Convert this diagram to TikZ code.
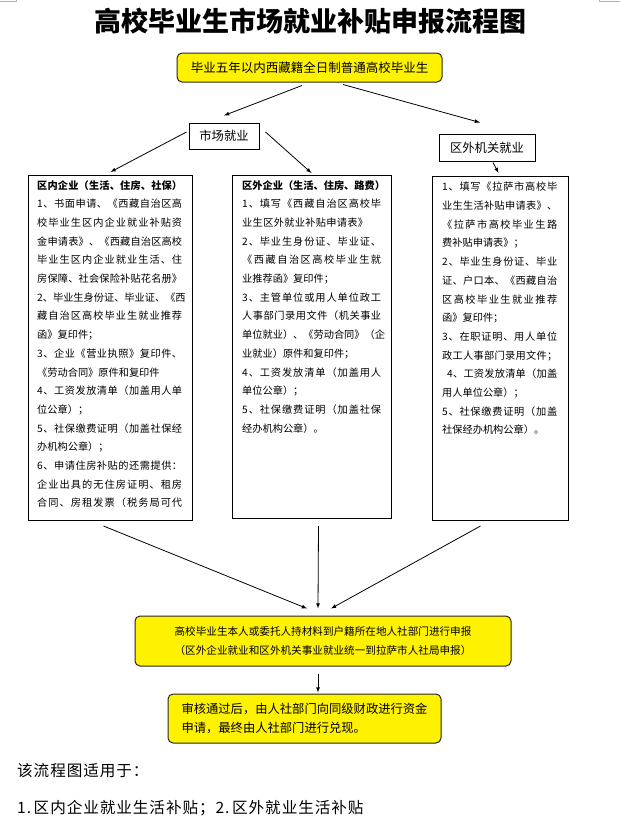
\documentclass[tikz,border=0pt]{standalone}
\usepackage{fontspec}
\setmainfont{Noto Sans CJK SC}[Kerning=Off]
\newfontfamily\notefont{Noto Sans CJK SC}[Kerning=Off,LetterSpace=6]
\def\flfirst#1{#1\flrest}
\def\flrest#1{\ifx#1\relax\else\hfil#1\expandafter\flrest\fi}
\newcommand\fl[2][\linewidth]{\makebox[#1][s]{\flfirst#2\relax}}
\newcommand\flb[1]{{\bfseries\fl{#1}}}
\usetikzlibrary{positioning}

\begin{document}
\begin{tikzpicture}[x=1pt,y=-1pt,
  flow/.style={draw=black!85,line width=1pt,fill=yellow,rounded corners=5pt,inner sep=0pt},
  tag/.style={draw=black,line width=1pt,inner sep=0pt,font=\fontsize{12.3}{14}\selectfont},
  panel/.style={draw=black,line width=1pt,inner sep=0pt,anchor=north west},
  ptext/.style={anchor=north west,inner sep=0pt,align=left,font=\fontsize{10.2}{18.7}\selectfont},
  link/.style={-latex,line width=0.8pt,black}]
\useasboundingbox (0,0) rectangle (620,819);
\draw[gray!60,line width=0.8pt] (0,1.5) -- (16,1.5) -- (16,0);
\draw[gray!60,line width=0.8pt] (620,1.5) -- (599,1.5) -- (599,0);

\node[font=\fontsize{27}{30}\selectfont\bfseries] (title) at (310,21) {高校毕业生市场就业补贴申报流程图};
\node[flow,minimum width=265pt,minimum height=29pt,font=\fontsize{12.5}{14}\selectfont] (grad) at (309.5,67.5) {毕业五年以内西藏籍全日制普通高校毕业生};
\node[tag,minimum width=70pt,minimum height=26pt] (mkt) at (224,136) {市场就业};
\node[tag,minimum width=96pt,minimum height=27pt] (gov) at (487,147.5) {区外机关就业};

\node[panel,minimum width=164pt,minimum height=345pt] (inner) at (28,175) {};
\node[panel,minimum width=159pt,minimum height=343pt] (outer) at (232,175) {};
\node[panel,minimum width=136pt,minimum height=344pt] (lhasa) at (432,176) {};

\node[ptext,text width=145pt] (innertxt) at ([xshift=9pt,yshift=-5pt]inner.north west) {\flb{区内企业（生活、住房、社保）}\\
\fl{1、书面申请、《西藏自治区高}\\
\fl{校毕业生区内企业就业补贴资}\\
\fl{金申请表》、《西藏自治区高校}\\
\fl{毕业生区内企业就业生活、住}\\
\fl{房保障、社会保险补贴花名册》}\\
\fl{2、毕业生身份证、毕业证、《西}\\
\fl{藏自治区高校毕业生就业推荐}\\
函》复印件；\\
\fl{3、企业《营业执照》复印件、}\\
《劳动合同》原件和复印件\\
\fl{4、工资发放清单（加盖用人单}\\
位公章）；\\
\fl{5、社保缴费证明（加盖社保经}\\
办机构公章）；\\
\fl{6、申请住房补贴的还需提供：}\\
\fl{企业出具的无住房证明、租房}\\
\fl{合同、房租发票（税务局可代}};
\node[ptext,text width=139pt] (outertxt) at ([xshift=10pt,yshift=-5pt]outer.north west) {\flb{区外企业（生活、住房、路费）}\\
\fl{1、填写《西藏自治区高校毕}\\
\fl[126pt]{业生区外就业补贴申请表》}\\
\fl{2、毕业生身份证、毕业证、}\\
\fl{《西藏自治区高校毕业生就}\\
业推荐函》复印件；\\
\fl{3、主管单位或用人单位政工}\\
\fl{人事部门录用文件（机关事业}\\
\fl{单位就业）、《劳动合同》（企}\\
业就业）原件和复印件；\\
\fl{4、工资发放清单（加盖用人}\\
单位公章）；\\
\fl{5、社保缴费证明（加盖社保}\\
经办机构公章）。};
\node[ptext,text width=115pt] (lhasatxt) at ([xshift=10pt,yshift=-6pt]lhasa.north west) {\fl{1、填写《拉萨市高校毕}\\
\fl{业生生活补贴申请表》、}\\
\fl{《拉萨市高校毕业生路}\\
费补贴申请表》；\\
\fl{2、毕业生身份证、毕业}\\
\fl{证、户口本、《西藏自治}\\
\fl{区高校毕业生就业推荐}\\
函》复印件；\\
\fl{3、在职证明、用人单位}\\
\fl{政工人事部门录用文件；}\\
\hspace*{5pt}\fl[110pt]{4、工资发放清单（加盖}\\
用人单位公章）；\\
\fl{5、社保缴费证明（加盖}\\
社保经办机构公章）。};

\node[flow,minimum width=376pt,minimum height=50pt,align=center,font=\fontsize{10.6}{19}\selectfont] (report) at (323,641) {高校毕业生本人或委托人持材料到户籍所在地人社部门进行申报\\（区外企业就业和区外机关事业就业统一到拉萨市人社局申报）};
\node[flow,minimum width=273pt,minimum height=49pt,align=left,font=\fontsize{12.3}{19}\selectfont] (cash) at (304.5,718.5) {审核通过后，由人社部门向同级财政进行资金\\申请，最终由人社部门进行兑现。};

\node[anchor=west,inner sep=0pt,font=\notefont\fontsize{15.6}{18}\selectfont] (use) at (17,771) {该流程图适用于：};
\node[anchor=west,inner sep=0pt,font=\notefont\fontsize{15.6}{18}\selectfont] (kinds) at (17,808) {1.\,区内企业就业生活补贴；2.\,区外就业生活补贴};

\draw[link] ([xshift=-7.5pt,yshift=-3pt]grad.south) -- ([yshift=7pt]mkt.north);
\draw[link] ([xshift=33.5pt,yshift=-2pt]grad.south) -- ([xshift=-7pt,yshift=11pt]gov.north);
\draw[link] ([xshift=-2pt,yshift=4pt]mkt.west) -- ([yshift=3pt]inner.north);
\draw[link] ([xshift=6pt,yshift=4pt]mkt.east) -- ([xshift=-0.5pt,yshift=2pt]outer.north);
\draw[link] ([xshift=6pt,yshift=-1pt]gov.south) -- ([xshift=-2pt,yshift=3pt]lhasa.north);
\draw[link] ([xshift=-7pt,yshift=-5pt]inner.south) -- ([xshift=-16pt,yshift=7pt]report.north);
\draw[link] ([xshift=6.5pt,yshift=-7pt]outer.south) -- ([xshift=-5pt,yshift=7pt]report.north);
\draw[link] ([xshift=-20pt,yshift=-5pt]lhasa.south) -- ([xshift=8pt,yshift=7pt]report.north);
\draw[link] ([xshift=-5pt,yshift=-7pt]report.south) -- ([xshift=13.5pt,yshift=1pt]cash.north);

\end{tikzpicture}
\end{document}
